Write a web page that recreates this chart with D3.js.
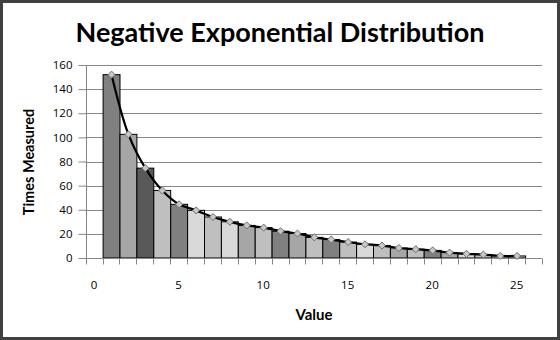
<!DOCTYPE html>
<html>
<head>
<meta charset="utf-8">
<script src="https://cdn.jsdelivr.net/npm/d3@7"></script>
<style>
  html, body { margin: 0; padding: 0; background: #fff; }
  svg { display: block; }
</style>
</head>
<body>
<svg id="chart" width="560" height="340"></svg>
<script>
// Categories on the x axis (one band each), counts per category, axis ticks
const categories = [0,1,2,3,4,5,6,7,8,9,10,11,12,13,14,15,16,17,18,19,20,21,22,23,24,25,26];
const counts = [null,152,102.5,74.5,56,44.5,39.5,34,30,27,25.2,22.2,20.3,17.1,15.3,13.2,11.4,10.3,8.3,7.3,6.3,4.5,3.5,2.8,1.7,1.7,null];
const barShades = [null,"#808080","#a6a6a6","#595959","#bfbfbf","#808080","#d9d9d9","#bfbfbf","#d9d9d9","#a6a6a6","#bfbfbf","#808080","#a6a6a6","#bfbfbf","#808080","#bfbfbf","#d9d9d9","#bfbfbf","#a6a6a6","#bfbfbf","#808080","#a6a6a6","#d9d9d9","#bfbfbf","#d9d9d9","#bfbfbf",null];
const yTicks = [0,20,40,60,80,100,120,140,160];
const xLabels = [0,5,10,15,20,25];
const title = "Negative Exponential Distribution";
const xTitle = "Value";
const yTitle = "Times Measured";

const svg = d3.select("#chart");
const W = 560, H = 340;
const plot = { left: 85.7, right: 542, top: 65, bottom: 258 };

// outer frame
svg.append("rect").attr("x", 1.5).attr("y", 1.5).attr("width", W - 3).attr("height", H - 3)
  .attr("fill", "#fff").attr("stroke", "#404040").attr("stroke-width", 3);

const x = d3.scaleBand().domain(categories).range([plot.left, plot.right]).padding(0);
const y = d3.scaleLinear().domain([0, 160]).range([plot.bottom, plot.top]);

// horizontal gridlines
svg.append("g").selectAll("line").data(yTicks.filter(d => d > 0)).join("line")
  .attr("x1", plot.left).attr("x2", plot.right)
  .attr("y1", d => Math.round(y(d)) + 0.5).attr("y2", d => Math.round(y(d)) + 0.5)
  .attr("stroke", "#868686").attr("stroke-width", 1);

// bars
const data = categories.map((c, i) => ({ c, v: counts[i], fill: barShades[i] })).filter(d => d.v != null);
svg.append("g").selectAll("rect").data(data).join("rect")
  .attr("x", d => x(d.c) + 0.5)
  .attr("width", x.bandwidth())
  .attr("y", d => y(d.v))
  .attr("height", d => y(0) - y(d.v))
  .attr("fill", d => d.fill)
  .attr("stroke", "#000").attr("stroke-width", 1);

// y axis
const yAxis = svg.append("g").attr("transform", `translate(${Math.round(plot.left) + 0.5},0)`)
  .call(d3.axisLeft(y).tickValues(yTicks).tickSize(8).tickPadding(6));
yAxis.select(".domain").attr("stroke", "#868686").attr("d", `M0,${plot.top}V${plot.bottom}`);
yAxis.selectAll(".tick line").attr("stroke", "#868686");
yAxis.selectAll(".tick text").attr("fill", "#000")
  .style("font-family", "'Open Sans', sans-serif").style("font-size", "11.5px");

// x axis: tick marks at band boundaries, labels every 5 at band centers
const gx = svg.append("g").attr("transform", `translate(0,${Math.round(plot.bottom) + 0.5})`);
gx.append("line").attr("x1", plot.left).attr("x2", plot.right).attr("stroke", "#868686");
const bounds = categories.map(c => x(c)).concat([plot.right]);
gx.selectAll("line.tk").data(bounds).join("line").attr("class", "tk")
  .attr("x1", d => Math.round(d) + 0.5).attr("x2", d => Math.round(d) + 0.5)
  .attr("y1", 0).attr("y2", 6).attr("stroke", "#868686");
gx.selectAll("text").data(xLabels).join("text")
  .attr("x", d => x(d) + x.bandwidth() / 2).attr("y", 30)
  .attr("text-anchor", "middle").attr("fill", "#000")
  .style("font-family", "'Open Sans', sans-serif").style("font-size", "11.5px")
  .text(d => d);

// smoothed line through the counts with diamond markers
const line = d3.line()
  .x(d => x(d.c) + x.bandwidth() / 2 + 0.5)
  .y(d => y(d.v))
  .curve(d3.curveCatmullRom.alpha(0.5));
svg.append("path").datum(data).attr("d", line)
  .attr("fill", "none").attr("stroke", "#000").attr("stroke-width", 2.2);
svg.append("g").selectAll("path").data(data).join("path")
  .attr("transform", d => `translate(${x(d.c) + x.bandwidth() / 2 + 0.5},${y(d.v)})`)
  .attr("d", d3.symbol(d3.symbolDiamond2, 32))
  .attr("fill", "#c8c8c8").attr("stroke", "#6e6e6e").attr("stroke-width", 1);

// titles
svg.append("text").attr("x", 280).attr("y", 42).attr("text-anchor", "middle")
  .style("font-family", "Lato, sans-serif").style("font-weight", "bold").style("font-size", "27px")
  .attr("fill", "#000").text(title);
svg.append("text").attr("x", 314).attr("y", 320).attr("text-anchor", "middle")
  .style("font-family", "Lato, sans-serif").style("font-weight", "bold").style("font-size", "15px")
  .attr("fill", "#000").text(xTitle);
svg.append("text").attr("transform", "translate(34,162) rotate(-90)").attr("text-anchor", "middle")
  .style("font-family", "Lato, sans-serif").style("font-weight", "bold").style("font-size", "14.5px")
  .attr("fill", "#000").text(yTitle);
</script>
</body>
</html>
